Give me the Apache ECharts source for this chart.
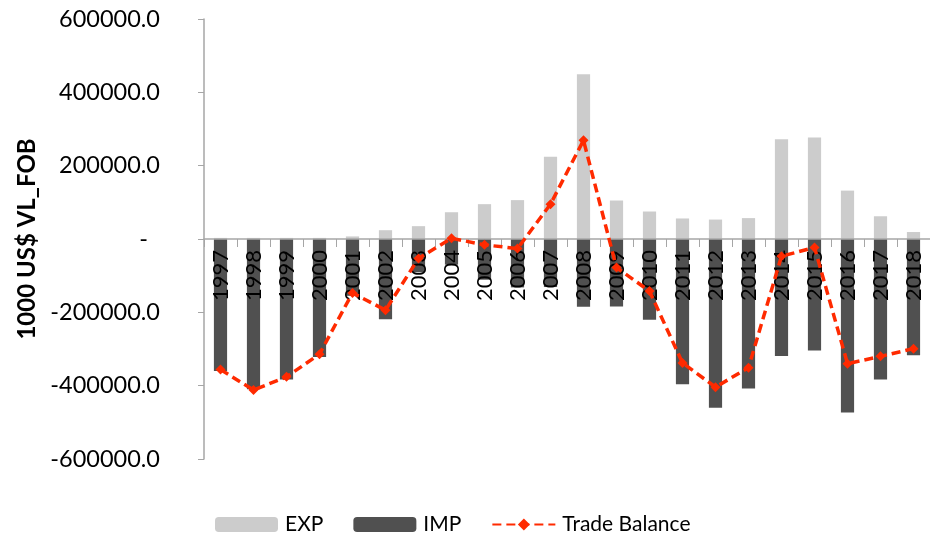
<!DOCTYPE html>
<html>
<head>
<meta charset="utf-8">
<script src="https://cdn.jsdelivr.net/npm/echarts@6/dist/echarts.min.js"></script>
<style>
	html, body { margin: 0; padding: 0; background: #fff; }
	#chart { width: 930px; height: 535px; }
</style>
</head>
<body>
<div id="chart"></div>
<script>
	var years = ['1997', '1998', '1999', '2000', '2001', '2002', '2003', '2004', '2005', '2006', '2007',
		'2008', '2009', '2010', '2011', '2012', '2013', '2014', '2015', '2016', '2017', '2018'];
	var expData = [3000, 3000, 3000, 3000, 7000, 24000, 35000, 73000, 95000, 106000, 224000,
		449000, 105000, 75000, 56000, 53000, 57000, 272000, 277000, 132000, 62000, 19000];
	var impData = [-360000, -410000, -383000, -322000, -155000, -219000, -90000, -70000, -111000, -132000, -131000,
		-185000, -184000, -220000, -396000, -460000, -408000, -319000, -304000, -473000, -383000, -317000];
	var balanceData = [-356000, -412000, -376000, -314000, -147000, -194000, -53000, 2000, -16000, -26000, 95000,
		269000, -78000, -142000, -338000, -404000, -351000, -47000, -23000, -340000, -320000, -299000];
	var yTicks = [-600000, -400000, -200000, 0, 200000, 400000, 600000];

	var font = 'Lato, "Open Sans", sans-serif';
	var chart = echarts.init(document.getElementById('chart'));
	// plot height 440px, zero sits in the middle -> shift x axis up by half of it
	var plotH = 440;
	chart.setOption({
		animation: false,
		textStyle: { fontFamily: font },
		grid: { left: 204, right: -8, top: 19, bottom: 76, containLabel: false },
		legend: {
			left: 210,
			top: 509,
			itemWidth: 63,
			itemHeight: 15,
			itemGap: 30,
			textStyle: { color: '#000', fontSize: 21, fontFamily: font, padding: [0, 0, 0, 2] },
			data: ['EXP', 'IMP', 'Trade Balance']
		},
		xAxis: {
			type: 'category',
			data: years,
			z: 3,
			position: 'bottom',
			offset: -plotH / 2,
			axisLine: { onZero: false, lineStyle: { color: '#a6a6a6', width: 1.5 } },
			axisTick: { show: true, length: 8, lineStyle: { color: '#a6a6a6' } },
			axisLabel: { rotate: 90, margin: 11, color: '#000', fontSize: 22, interval: 0 }
		},
		yAxis: {
			type: 'value',
			min: yTicks[0],
			max: yTicks[yTicks.length - 1],
			interval: 200000,
			name: '1000 US$ VL_FOB',
			nameLocation: 'middle',
			nameGap: 162,
			nameTextStyle: { color: '#000', fontSize: 24, fontWeight: 'bold' },
			splitLine: { show: false },
			axisLine: { show: true, lineStyle: { color: '#a6a6a6', width: 1.5 } },
			axisTick: { show: true, length: 6, lineStyle: { color: '#a6a6a6' } },
			axisLabel: {
				color: '#000',
				fontSize: 23.5,
				margin: 44,
				formatter: function (v) {
					return v === 0 ? '-  ' : v.toFixed(1);
				}
			}
		},
		series: [{
			name: 'EXP',
			type: 'bar',
			barWidth: '40%',
			barGap: '-100%',
			itemStyle: { color: '#cccccc' },
			data: expData
		}, {
			name: 'IMP',
			type: 'bar',
			barWidth: '40%',
			barGap: '-100%',
			itemStyle: { color: '#505050' },
			data: impData
		}, {
			name: 'Trade Balance',
			type: 'line',
			z: 5,
			symbol: 'diamond',
			symbolSize: 10,
			itemStyle: { color: '#ff2a00' },
			lineStyle: { color: '#ff2a00', width: 3.5, type: [9, 5] },
			data: balanceData
		}]
	});
</script>
</body>
</html>
